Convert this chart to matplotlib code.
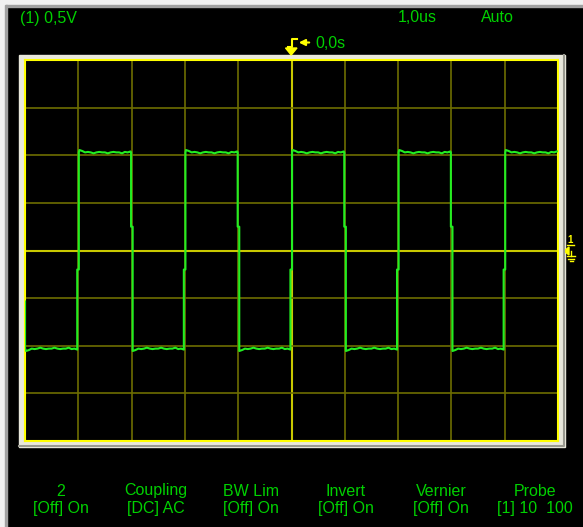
import matplotlib
matplotlib.use("Agg")
import matplotlib.pyplot as plt
from matplotlib.patches import Rectangle, Polygon

plt.rcParams['font.family'] = ['Liberation Sans Narrow', 'Liberation Sans', 'DejaVu Sans']

# screen settings (divisions: 10 x 8, 1.0us/div, 0.5V/div)
x_divs = [-5, -4, -3, -2, -1, 0, 1, 2, 3, 4, 5]
y_divs = [-4, -3, -2, -1, 0, 1, 2, 3, 4]

# square wave (time in div, level in div)
rise_times = [-4, -2, 0, 2, 4]
fall_times = [-3, -1, 1, 3]
high_level = 2.06
low_level = -2.06
start_level = -1.07
# small wiggle read along each flat part of the trace
ripple = [0.05, 0.03, 0.0, 0.01, 0.0, -0.02, 0.0, 0.01, 0.0,
          0.0, -0.02, 0.0, 0.01, 0.0, 0.0, -0.02, 0.01, 0.0, 0.02]

top_labels = ["(1) 0,5V", "1,0us", "Auto"]
menu_titles = ["2", "Coupling", "BW Lim", "Invert", "Vernier", "Probe"]
menu_values = ["[Off] On", "[DC] AC", "[Off] On", "[Off] On", "[Off] On", "[1] 10  100"]

W, H = 583, 527
fig = plt.figure(figsize=(W / 100, H / 100), dpi=100, facecolor='black')

# background layer in pixel coords
bg = fig.add_axes([0, 0, 1, 1])
bg.set_xlim(0, W)
bg.set_ylim(H, 0)
bg.axis('off')
bg.add_patch(Rectangle((0, 0), W, H, color='black'))
bg.add_patch(Rectangle((0, 0), W, 5, color='#f0f0f0'))
bg.add_patch(Rectangle((0, 5), W, 2, color='#a0a0a0'))
bg.add_patch(Rectangle((0, 0), 5, H, color='#f0f0f0'))
bg.add_patch(Rectangle((5, 5), 2, H, color='#a0a0a0'))
# bevel around the screen
bg.add_patch(Rectangle((19, 55), 546, 392, color='#e9e8dc'))
bg.plot([564, 564, 19], [55, 446, 446], color='#9a9a90', lw=1.5)

txt_green = '#00d000'
fs = 11.5
bg.text(20, 18, top_labels[0], color=txt_green, fontsize=fs, va='center', ha='left')
bg.text(398, 18, top_labels[1], color=txt_green, fontsize=fs, va='center', ha='left')
bg.text(481, 18, top_labels[2], color=txt_green, fontsize=fs, va='center', ha='left')
bg.text(315, 43, "0,0s", color=txt_green, fontsize=fs, va='center', ha='left')

# trigger position marker
yel = '#ffff00'
bg.annotate('', xy=(296, 42.5), xytext=(312, 42.5),
            arrowprops=dict(arrowstyle='-|>', color=yel, lw=1.5, mutation_scale=9))
bg.plot([288, 292, 292, 297], [47, 47, 39, 39], color=yel, lw=1.5)
bg.add_patch(Polygon([(285.5, 48), (297, 48), (291.2, 55)], color=yel))

# trigger level marker on the right
bg.add_patch(Polygon([(564, 251), (569, 247), (569, 255)], color=yel))
bg.text(570, 240, "1", color=yel, fontsize=7, ha='center', va='center', fontweight='bold')
bg.plot([567, 574], [245, 245], color=yel, lw=1)
bg.plot([571, 571], [251, 256], color=yel, lw=1)
bg.plot([567, 575], [256, 256], color=yel, lw=1)
bg.plot([568, 574], [258.5, 258.5], color=yel, lw=1)
bg.plot([569.5, 572.5], [261, 261], color=yel, lw=1)

# bottom menu
menu_x = [61, 156, 251, 346, 441, 535]
for mx, t, v in zip(menu_x, menu_titles, menu_values):
    bg.text(mx, 491, t, color=txt_green, fontsize=fs, ha='center', va='center')
    bg.text(mx, 509, v, color=txt_green, fontsize=fs, ha='center', va='center')

# scope screen
ax = fig.add_axes([25 / W, 1 - 441 / H, 533 / W, 381 / H], facecolor='black')
ax.set_xlim(-5, 5)
ax.set_ylim(-4, 4)
for xv in x_divs[1:-1]:
    ax.axvline(xv, color='#c8c800' if xv == 0 else '#6e6e00', lw=1.5 if xv == 0 else 1.2, zorder=1)
for yv in y_divs[1:-1]:
    ax.axhline(yv, color='#c8c800' if yv == 0 else '#6e6e00', lw=1.5 if yv == 0 else 1.2, zorder=1)
for s in ax.spines.values():
    s.set_color(yel)
    s.set_linewidth(1.5)
ax.set_xticks([])
ax.set_yticks([])

# build trace
edges = sorted([(t, 'r') for t in rise_times] + [(t, 'f') for t in fall_times])
tx = [-5, -5]
ty = [start_level, low_level]
prev = -5
level = low_level
for t, kind in edges + [(5, 'end')]:
    n = len(ripple)
    for i, r in enumerate(ripple):
        xi = prev + 0.02 + (t - prev - 0.04) * i / (n - 1)
        sign = 1 if level > 0 else -1
        tx.append(xi)
        ty.append(level + sign * r)
    if kind == 'r':
        tx += [t - 0.02, t - 0.02, t + 0.01, t + 0.01]
        ty += [low_level, -0.4, -0.4, high_level]
        level = high_level
    elif kind == 'f':
        tx += [t - 0.01, t - 0.01, t + 0.02, t + 0.02]
        ty += [high_level, 0.5, 0.5, low_level]
        level = low_level
    prev = t
ax.plot(tx, ty, color='#22ee22', lw=1.5, zorder=3)

fig.savefig('out.png', dpi=100, facecolor='black')
